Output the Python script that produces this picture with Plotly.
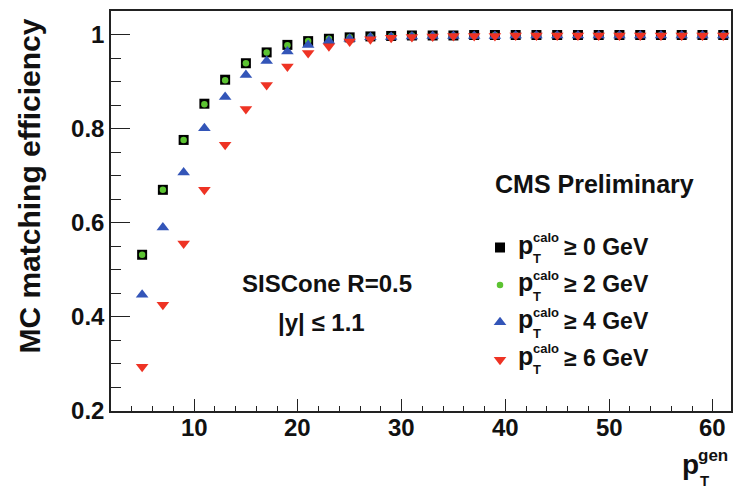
import plotly.graph_objects as go

# ---- data ----
pt_gen = [5, 7, 9, 11, 13, 15, 17, 19, 21, 23, 25, 27, 29, 31, 33, 35, 37, 39,
          41, 43, 45, 47, 49, 51, 53, 55, 57, 59, 61]
eff_pt0 = [0.532, 0.670, 0.776, 0.853, 0.904, 0.939, 0.962, 0.978, 0.986, 0.991,
           0.994, 0.996, 0.997, 0.998, 0.998, 0.998, 0.999, 0.999, 0.999, 0.999,
           0.999, 0.999, 0.999, 0.999, 0.999, 0.999, 0.999, 0.999, 0.999]
eff_pt2 = [0.532, 0.670, 0.776, 0.852, 0.903, 0.939, 0.962, 0.977, 0.986, 0.991,
           0.994, 0.996, 0.997, 0.998, 0.998, 0.998, 0.998, 0.999, 0.999, 0.999,
           0.999, 0.999, 0.999, 0.999, 0.999, 0.999, 0.999, 0.999, 0.999]
eff_pt4 = [0.447, 0.590, 0.707, 0.801, 0.867, 0.914, 0.944, 0.964, 0.978, 0.986,
           0.991, 0.994, 0.995, 0.996, 0.997, 0.997, 0.997, 0.997, 0.998, 0.998,
           0.998, 0.998, 0.998, 0.998, 0.998, 0.998, 0.998, 0.998, 0.998]
eff_pt6 = [0.294, 0.426, 0.556, 0.670, 0.766, 0.842, 0.893, 0.932, 0.961, 0.975,
           0.985, 0.990, 0.993, 0.995, 0.996, 0.997, 0.997, 0.997, 0.998, 0.998,
           0.998, 0.998, 0.998, 0.998, 0.998, 0.998, 0.998, 0.998, 0.998]
thresholds = ["0", "2", "4", "6"]
y_ticks = [0.2, 0.4, 0.6, 0.8, 1.0]
y_ticktext = ["0.2", "0.4", "0.6", "0.8", "1"]
x_ticks = [10, 20, 30, 40, 50, 60]
x_ticktext = ["10", "20", "30", "40", "50", "60"]

FONT = "Liberation Sans, Arial, Helvetica, sans-serif"
W, H = 735, 488
L, R, T, B = 110.5, 2, 11, 76.5
PW, PH = W - L - R, H - T - B

def px(x):
    return (x - L) / PW

def py(y):
    return (H - B - y) / PH

series = [
    (eff_pt0, "square", 10, "#000000"),
    (eff_pt2, "circle", 6.5, "#5cc332"),
    (eff_pt4, "triangle-up", 11, "#3355b8"),
    (eff_pt6, "triangle-down", 11, "#ee3324"),
]

fig = go.Figure()
for vals, sym, size, col in series:
    fig.add_trace(go.Scatter(
        x=pt_gen, y=vals, mode="markers", name="\u2003",
        marker=dict(symbol=sym, size=size, color=col, line=dict(width=0)),
        showlegend=True,
    ))

ann = []
def add(text, x, y, size, xanchor="center", yanchor="middle", angle=0):
    ann.append(dict(text="<b>%s</b>" % text, x=px(x), y=py(y), xref="paper", yref="paper",
                    showarrow=False, xanchor=xanchor, yanchor=yanchor, textangle=angle,
                    font=dict(family=FONT, size=size, color="#111")))

add("CMS Preliminary", 596, 184, 25)
add("SISCone R=0.5", 327.5, 284, 24)
add("|y| \u2264 1.1", 322, 323, 24)

row_y = [247, 284.5, 321.5, 358]
for thr, ry in zip(thresholds, row_y):
    add("p", 517, ry - 2, 25, xanchor="left")
    add("calo", 532, ry - 9, 13, xanchor="left")
    add("T", 532.5, ry + 12, 13, xanchor="left")
    add("\u2265 %s GeV" % thr, 563, ry, 23, xanchor="left")

# x tick labels placed on the x scale (closer to the axis, as in ROOT)
for v, t in zip(x_ticks, x_ticktext):
    ann.append(dict(text="<b>%s</b>" % t, x=v, xref="x", y=py(428), yref="paper",
                    showarrow=False, xanchor="center", yanchor="middle",
                    font=dict(family=FONT, size=24, color="#111")))

# x axis title p_T^gen
add("p", 681.5, 465, 28, xanchor="left")
add("gen", 698, 456, 17, xanchor="left")
add("T", 699.5, 481, 15, xanchor="left")

# y axis title
add("MC matching efficiency", 29, 186, 30, angle=-90)

fig.update_layout(
    width=W, height=H,
    margin=dict(l=L, r=R, t=T, b=B, pad=0),
    paper_bgcolor="white", plot_bgcolor="white",
    font=dict(family=FONT, size=24, color="#111"),
    showlegend=True,
    legend=dict(x=px(481), y=py(224), xanchor="left", yanchor="top",
                bgcolor="rgba(0,0,0,0)", borderwidth=0,
                font=dict(family=FONT, size=26.5), itemsizing="trace",
                tracegroupgap=0),
    annotations=ann,
    xaxis=dict(range=[2, 61.75], tickvals=x_ticks, showticklabels=False,
               ticks="inside", ticklen=12,
               tickwidth=1.3, tickcolor="#222", showline=True, linecolor="#222",
               linewidth=1.5, mirror=True, showgrid=False, zeroline=False,
               minor=dict(dtick=2, tick0=0, ticks="inside", ticklen=5, tickwidth=1.3,
                          tickcolor="#222", showgrid=False)),
    yaxis=dict(range=[0.2, 1.05], tickvals=y_ticks, ticktext=y_ticktext,
               ticks="inside", ticklen=19, tickwidth=1.3, tickcolor="#222",
               showline=True, linecolor="#222", linewidth=1.5, mirror=True,
               showgrid=False, zeroline=False,
               tickfont=dict(family=FONT, size=24, weight="bold", color="#111"),
               minor=dict(dtick=0.05, tick0=0, ticks="inside", ticklen=10,
                          tickwidth=1.3, tickcolor="#222", showgrid=False)),
)

fig.write_html("out.html")
